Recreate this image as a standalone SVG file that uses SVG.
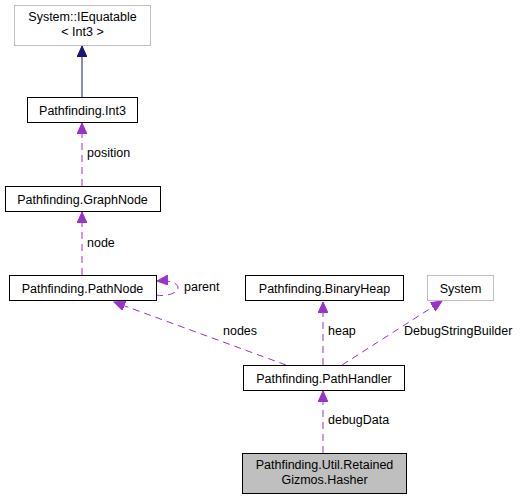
<svg xmlns="http://www.w3.org/2000/svg" width="521" height="500" viewBox="0 0 521 500">
<defs>
<style>
text{font-family:"Liberation Sans",Arial,sans-serif;font-size:12.5px;fill:#000}
.n{fill:#fff;stroke:#000;stroke-width:1}
.g{fill:#fff;stroke:#bfbfbf;stroke-width:1}
.h{fill:#bfbfbf;stroke:#000;stroke-width:1}
.d{fill:none;stroke:#9a32cd;stroke-width:1;stroke-dasharray:7,5}
.s{fill:none;stroke:#191970;stroke-width:1}
</style>
<marker id="ap" markerWidth="12" markerHeight="10" refX="11" refY="5" orient="auto" markerUnits="userSpaceOnUse">
<path d="M0,0 L11,5 L0,10 z" fill="#9a32cd" stroke="#9a32cd"/>
</marker>
<marker id="an" markerWidth="12" markerHeight="10" refX="11" refY="5" orient="auto" markerUnits="userSpaceOnUse">
<path d="M0,0 L11,5 L0,10 z" fill="#191970" stroke="#191970"/>
</marker>
</defs>
<rect width="521" height="500" fill="#fff"/>
<g id="connectors">
<path class="s" d="M82,97 L82,46" marker-end="url(#an)"/>
<path class="d" d="M82,186 L82,123" marker-end="url(#ap)"/>
<text x="87" y="157">position</text>
<path class="d" d="M82,275 L82,212" marker-end="url(#ap)"/>
<text x="87" y="247">node</text>
<path class="d" d="M156,295 C166,297 178,293 178,288 C178,283 170,280 157,281" marker-end="url(#ap)"/>
<text x="184" y="291">parent</text>
<path class="d" d="M286,365 L114,302" marker-end="url(#ap)"/>
<text x="223" y="335">nodes</text>
<path class="d" d="M323,365 L323,302" marker-end="url(#ap)"/>
<text x="328" y="335">heap</text>
<path class="d" d="M342,365 L442,301" marker-end="url(#ap)"/>
<text x="404" y="335">DebugStringBuilder</text>
<path class="d" d="M323,453 L323,391" marker-end="url(#ap)"/>
<text x="328" y="424">debugData</text>
</g>
<g id="iequatable">
<rect class="g" x="14.5" y="5.5" width="136" height="40"/>
<text x="82.5" y="21" text-anchor="middle">System::IEquatable</text>
<text x="82.5" y="36" text-anchor="middle">&lt; Int3 &gt;</text>
</g>
<g id="int3">
<rect class="n" x="27.5" y="97.5" width="110" height="25"/>
<text x="82.5" y="115" text-anchor="middle">Pathfinding.Int3</text>
</g>
<g id="graphnode">
<rect class="n" x="5.5" y="186.5" width="155" height="25"/>
<text x="82.5" y="204" text-anchor="middle">Pathfinding.GraphNode</text>
</g>
<g id="pathnode">
<rect class="n" x="9.5" y="275.5" width="147" height="25"/>
<text x="82.5" y="293" text-anchor="middle">Pathfinding.PathNode</text>
</g>
<g id="binaryheap">
<rect class="n" x="245.5" y="275.5" width="158" height="25"/>
<text x="324.5" y="293" text-anchor="middle">Pathfinding.BinaryHeap</text>
</g>
<g id="system">
<rect class="g" x="427.5" y="275.5" width="66" height="25"/>
<text x="460.5" y="293" text-anchor="middle">System</text>
</g>
<g id="pathhandler">
<rect class="n" x="243.5" y="365.5" width="161" height="25"/>
<text x="324" y="383" text-anchor="middle">Pathfinding.PathHandler</text>
</g>
<g id="hasher">
<rect class="h" x="242.5" y="453.5" width="164" height="40"/>
<text x="324.5" y="469" text-anchor="middle">Pathfinding.Util.Retained</text>
<text x="324.5" y="484" text-anchor="middle">Gizmos.Hasher</text>
</g>
</svg>
